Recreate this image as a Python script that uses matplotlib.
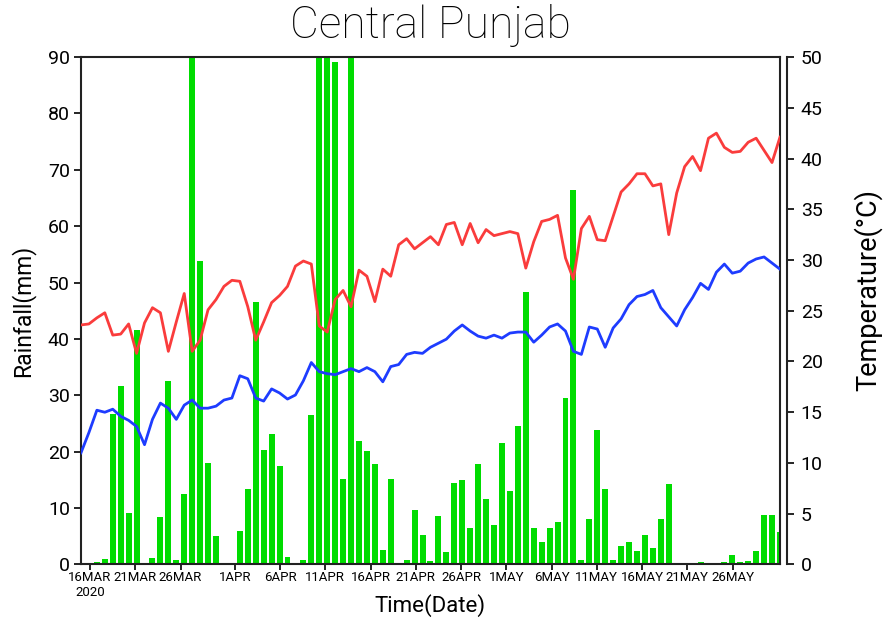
import numpy as np
import pandas as pd
import matplotlib
matplotlib.use('Agg')
import matplotlib.pyplot as plt

# daily rainfall (mm)
rain = [0, 0, 0.5, 0.9, 26.7, 31.7, 9.1, 41.6, 0, 1.1,
        8.4, 32.6, 0.8, 12.5, 95, 53.9, 18.0, 5.1, 0, 0,
        5.9, 13.4, 46.5, 20.3, 23.2, 17.5, 1.4, 0, 0.8, 26.5,
        95, 95, 89.1, 15.2, 95, 21.9, 20.1, 17.8, 2.5, 15.2,
        0, 0.8, 9.7, 5.2, 0.6, 8.6, 2.3, 14.4, 14.9, 6.4,
        17.8, 11.6, 7.0, 21.5, 13.0, 24.6, 48.4, 6.5, 3.9, 6.5,
        7.5, 29.5, 66.4, 0.8, 8.0, 23.8, 13.3, 0.8, 3.3, 4.0,
        2.4, 5.2, 2.9, 8.0, 14.2, 0.3, 0, 0, 0.4, 0.3,
        0, 0.4, 1.6, 0.5, 0.6, 2.4, 8.7, 8.7, 5.7]

# maximum temperature (C)
tmax = [23.6, 23.7, 24.3, 24.8, 22.6, 22.7, 23.7, 20.8, 23.8, 25.3,
        24.8, 21.0, 23.9, 26.7, 21.0, 22.1, 25.1, 26.1, 27.4, 28.0,
        27.9, 25.4, 22.1, 23.9, 25.8, 26.5, 27.4, 29.4, 29.9, 29.6,
        23.5, 22.9, 26.1, 27.0, 25.4, 29.0, 28.4, 25.9, 29.1, 28.4,
        31.5, 32.1, 31.1, 31.7, 32.3, 31.5, 33.5, 33.7, 31.5, 33.6,
        31.7, 33.0, 32.4, 32.6, 32.8, 32.6, 29.2, 31.8, 33.8, 34.0,
        34.4, 30.2, 28.1, 33.1, 34.3, 32.0, 31.9, 34.3, 36.7, 37.5,
        38.5, 38.5, 37.3, 37.5, 32.5, 36.6, 39.2, 40.2, 38.8, 42.0,
        42.5, 41.1, 40.6, 40.7, 41.6, 42.0, 40.8, 39.6, 42.1]

# minimum temperature (C)
tmin = [11.0, 13.0, 15.2, 15.0, 15.3, 14.6, 14.2, 13.6, 11.8, 14.3,
        15.9, 15.4, 14.3, 15.7, 16.2, 15.4, 15.4, 15.6, 16.2, 16.4,
        18.6, 18.3, 16.4, 16.1, 17.3, 16.9, 16.3, 16.7, 18.1, 19.9,
        19.0, 18.8, 18.7, 19.0, 19.3, 19.0, 19.4, 19.0, 18.0, 19.5,
        19.7, 20.7, 20.9, 20.8, 21.4, 21.8, 22.2, 23.0, 23.6, 23.0,
        22.5, 22.3, 22.6, 22.3, 22.8, 22.9, 22.9, 21.9, 22.6, 23.4,
        23.7, 23.0, 21.0, 20.7, 23.4, 23.2, 21.4, 23.3, 24.2, 25.6,
        26.4, 26.6, 27.0, 25.3, 24.4, 23.5, 25.1, 26.3, 27.7, 27.1,
        28.8, 29.6, 28.7, 28.9, 29.7, 30.1, 30.3, 29.7, 29.1]

tick_dates = ['2020-03-16', '2020-03-21', '2020-03-26', '2020-04-01', '2020-04-06',
              '2020-04-11', '2020-04-16', '2020-04-21', '2020-04-26', '2020-05-01',
              '2020-05-06', '2020-05-11', '2020-05-16', '2020-05-21', '2020-05-26']
tick_labels = ['16MAR\n2020', '21MAR', '26MAR', '1APR', '6APR', '11APR', '16APR',
               '21APR', '26APR', '1MAY', '6MAY', '11MAY', '16MAY', '21MAY', '26MAY']

START = pd.Timestamp('2020-03-15')
X_END = 77.24  # days covered by the frame

x = np.linspace(0, X_END, len(rain))
tick_pos = [(pd.Timestamp(d) - START).days for d in tick_dates]

plt.rcParams['font.family'] = ['Roboto', 'DejaVu Sans']

fig = plt.figure(figsize=(8.84, 6.21), dpi=100)
ax = fig.add_axes([0.0916, 0.091, 0.7907, 0.8172])
ax.bar(x, rain, width=0.66, color='#00dc00', zorder=2)
ax.set_xlim(0, X_END)
ax.set_ylim(0, 90)
ax.set_yticks(range(0, 91, 10))
ax.set_xticks(tick_pos, tick_labels)
ax.tick_params(axis='x', labelsize=9.5, length=4, width=1.2, pad=1)
ax.tick_params(axis='y', labelsize=14, length=5, width=1.2, pad=3)
for s in ax.spines.values():
    s.set_linewidth(1.5)
    s.set_color('#222222')
ax.set_ylabel('Rainfall(mm)', fontsize=16.5, labelpad=9)
ax.set_xlabel('Time(Date)', fontsize=16)
ax.xaxis.set_label_coords(0.5, -0.058)
ax.set_title('Central Punjab', fontsize=32, pad=14, fontweight='light')

ax2 = ax.twinx()
ax2.plot(x, tmax, color='#fa3c3c', lw=2)
ax2.plot(x, tmin, color='#1e3cff', lw=2)
ax2.set_ylim(0, 50)
ax2.set_yticks(range(0, 51, 5))
ax2.spines['right'].set_position(('outward', 5))
ax2.spines['right'].set_linewidth(1.5)
ax2.spines['right'].set_color('#222222')
for k in ['left', 'top', 'bottom']:
    ax2.spines[k].set_visible(False)
ax2.tick_params(axis='y', labelsize=14, length=5, width=1.2, pad=5)
ax2.set_ylabel('Temperature(°C)', fontsize=19.5)
ax2.yaxis.set_label_coords(1.105, 0.54)

fig.savefig('out.png', dpi=100)
